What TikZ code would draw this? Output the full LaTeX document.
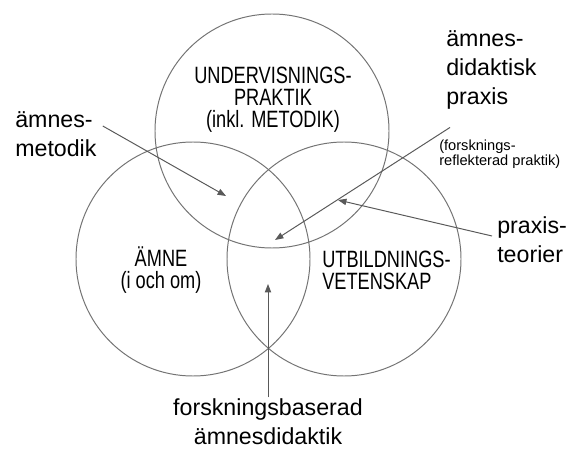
\documentclass[tikz,border=0pt]{standalone}
\usepackage{fontspec}
\setmainfont{Liberation Sans}
\newfontfamily\narrowfont[FakeStretch=0.77]{Liberation Sans}
\usetikzlibrary{arrows.meta}

\tikzset{
  circ/.style={draw=black!55, line width=0.7pt},
  lbl/.style={align=left, inner sep=0pt, font=\fontsize{16.5}{20.5}\selectfont},
  inlbl/.style={align=center, inner sep=0pt, font=\narrowfont\fontsize{16.8}{15.6}\selectfont},
  smalllbl/.style={align=left, inner sep=0pt, font=\fontsize{10.4}{11}\selectfont},
  pil/.style={draw=black!65, line width=0.7pt, -{Triangle[length=6pt,width=4.5pt]}},
}

\begin{document}
\begin{tikzpicture}
\useasboundingbox (0,0) rectangle (14.225,11.25);
% de tre cirklarna
\draw [circ] (6.8,7.975) circle (2.925);
\draw [circ] (4.825,4.775) circle (2.925);
\draw [circ] (8.6,4.775) circle (2.925);
% text i cirklarna
\node (praktik) [inlbl] at (6.825,8.75) {UNDERVISNINGS-\\PRAKTIK\\(inkl. METODIK)};
\node (amne) [inlbl] at (4.025,4.5) {ÄMNE\\(i och om)};
\node (utb) [inlbl, align=left, anchor=west] at (8.05,4.5) {UTBILDNINGS-\\VETENSKAP};
% etiketter utanfor
\node (metodik) [lbl, anchor=west] at (0.375,7.9) {ämnes-\\metodik};
\node (praxis) [lbl, anchor=west] at (11.15,9.5) {ämnes-\\didaktisk\\praxis};
\node (reflekt) [smalllbl, anchor=west] at (10.975,7.4) {(forsknings-\\reflekterad praktik)};
\node (teorier) [lbl, anchor=west] at (12.425,5.25) {praxis-\\teorier};
\node (baserad) [lbl, align=center] at (6.7,0.7) {forskningsbaserad\\ämnesdidaktik};
% pilar
\coordinate (p1) at (5.65,6.35);
\coordinate (p2) at (6.875,5.25);
\coordinate (p3) at (8.45,6.25);
\coordinate (p4) at (6.7,4.15);
\draw [pil] ([shift={(0.15,0.2)}]metodik.east) -- (p1);
\draw [pil] ([shift={(0.1,-0.45)}]praxis.south west) -- (p2);
\draw [pil] ([shift={(-0.125,0.1)}]teorier.west) -- (p3);
\draw [pil] ([yshift=1pt]baserad.north) -- (p4);
\end{tikzpicture}
\end{document}
